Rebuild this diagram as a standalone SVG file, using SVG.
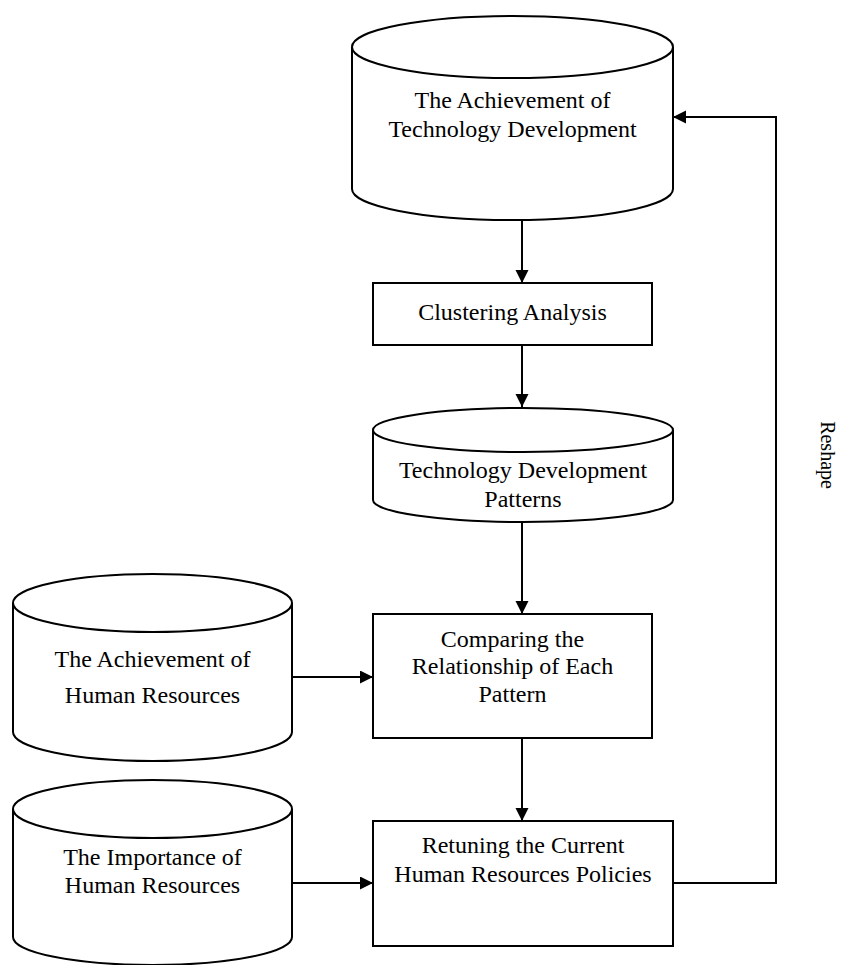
<svg xmlns="http://www.w3.org/2000/svg" width="849" height="965" viewBox="0 0 849 965">
<style>
.shape{fill:#fff;stroke:#000;stroke-width:2}
.line{fill:none;stroke:#000;stroke-width:2}
text{font-family:"Liberation Serif","Times New Roman",serif;font-size:24px;fill:#000;text-anchor:middle}
.lbl{font-size:20px}
</style>
<defs>
<marker id="ah" markerUnits="userSpaceOnUse" markerWidth="14" markerHeight="14" refX="13" refY="6.5" orient="auto">
<path d="M0,0 L13,6.5 L0,13 z" fill="#000"/>
</marker>
</defs>
<g id="connectors">
<line class="line" x1="522" y1="220" x2="522" y2="283" marker-end="url(#ah)"/>
<line class="line" x1="522" y1="345" x2="522" y2="407" marker-end="url(#ah)"/>
<line class="line" x1="522" y1="522" x2="522" y2="614" marker-end="url(#ah)"/>
<line class="line" x1="522" y1="738" x2="522" y2="821" marker-end="url(#ah)"/>
<line class="line" x1="287" y1="677" x2="373" y2="677" marker-end="url(#ah)"/>
<line class="line" x1="287" y1="883" x2="373" y2="883" marker-end="url(#ah)"/>
<polyline class="line" points="673,883 776,883 776,117 673,117" marker-end="url(#ah)"/>
<text class="lbl" transform="translate(821,455) rotate(90)">Reshape</text>
</g>
<g id="tech-achievement">
<path class="shape" d="M352,47 L352,189 A160.5,31 0 0 0 673,189 L673,47 A160.5,31 0 0 0 352,47 z"/>
<path class="line" d="M352,47 A160.5,31 0 0 0 673,47"/>
<text x="512.5" y="108">The Achievement of</text>
<text x="512.5" y="137">Technology Development</text>
</g>
<g id="clustering">
<rect class="shape" x="373" y="283" width="279" height="62"/>
<text x="512.5" y="320">Clustering Analysis</text>
</g>
<g id="tech-patterns">
<path class="shape" d="M373,430 L373,500 A150,22 0 0 0 673,500 L673,430 A150,22 0 0 0 373,430 z"/>
<path class="line" d="M373,430 A150,22 0 0 0 673,430"/>
<text x="523" y="478">Technology Development</text>
<text x="523" y="507">Patterns</text>
</g>
<g id="hr-achievement">
<path class="shape" d="M13,603 L13,732 A139.5,29 0 0 0 292,732 L292,603 A139.5,29 0 0 0 13,603 z"/>
<path class="line" d="M13,603 A139.5,29 0 0 0 292,603"/>
<text x="152.5" y="667">The Achievement of</text>
<text x="152.5" y="703">Human Resources</text>
</g>
<g id="comparing">
<rect class="shape" x="373" y="614" width="279" height="124"/>
<text x="512.5" y="647">Comparing the</text>
<text x="512.5" y="674">Relationship of Each</text>
<text x="512.5" y="702">Pattern</text>
</g>
<g id="hr-importance">
<path class="shape" d="M13,809 L13,937 A139.5,28 0 0 0 292,937 L292,809 A139.5,29 0 0 0 13,809 z"/>
<path class="line" d="M13,809 A139.5,29 0 0 0 292,809"/>
<text x="152.5" y="865">The Importance of</text>
<text x="152.5" y="893">Human Resources</text>
</g>
<g id="retuning">
<rect class="shape" x="373" y="821" width="300" height="125"/>
<text x="523" y="853">Retuning the Current</text>
<text x="523" y="882">Human Resources Policies</text>
</g>
</svg>
